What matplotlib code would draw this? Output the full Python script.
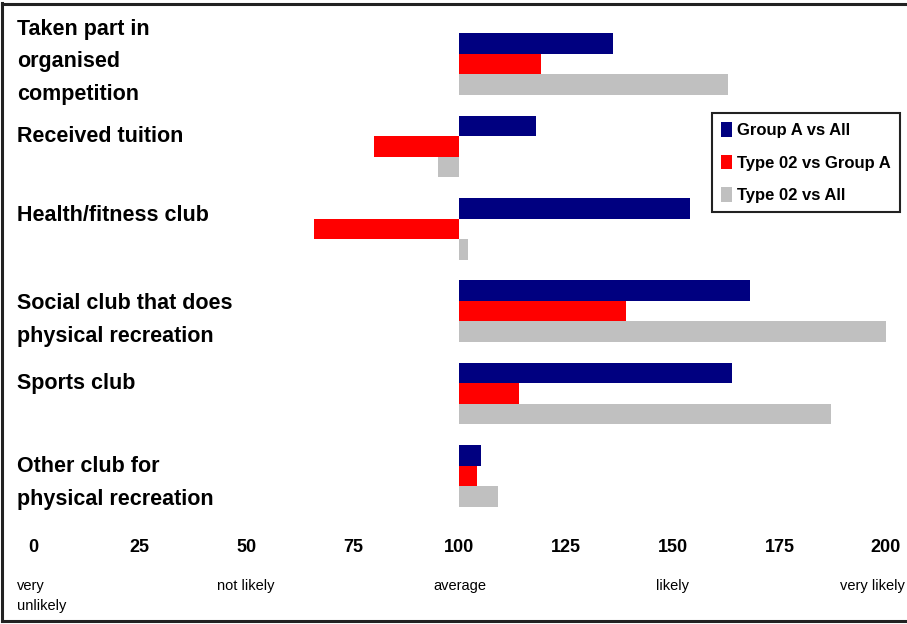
import matplotlib.pyplot as plt
from matplotlib.lines import Line2D
import numpy as np

plt.rcParams['font.family'] = ['Liberation Sans', 'DejaVu Sans']

categories = ['Taken part in\norganised\ncompetition',
              'Received tuition',
              'Health/fitness club',
              'Social club that does\nphysical recreation',
              'Sports club',
              'Other club for\nphysical recreation']
series_names = ['Group A vs All', 'Type 02 vs Group A', 'Type 02 vs All']
group_a_vs_all = [136, 118, 154, 168, 164, 105]
type02_vs_group_a = [119, 80, 66, 139, 114, 104]
type02_vs_all = [163, 95, 102, 201, 187, 109]
tick_values = [0, 25, 50, 75, 100, 125, 150, 175, 200]
scale_values = [0, 50, 100, 150, 200]
scale_labels = ['very\nunlikely', 'not likely', 'average', 'likely', 'very likely']

colors = ['#000080', '#ff0000', '#c0c0c0']
baseline = 100

W, H = 907, 624
fig = plt.figure(figsize=(W / 100, H / 100), dpi=100)
ax = fig.add_axes([33 / W, 1 - 517 / H, (886 - 33) / W, (517 - 23) / H])

y = np.arange(len(categories))
h = 0.25
for k, vals in enumerate([group_a_vs_all, type02_vs_group_a, type02_vs_all]):
    vals = np.array(vals, dtype=float)
    ax.barh(y + (k - 1) * h, vals - baseline, left=baseline, height=h,
            color=colors[k], label=series_names[k])

ax.set_xlim(0, 200)
ax.set_ylim(len(categories) - 0.5, -0.5)
for s in ax.spines.values():
    s.set_visible(False)
ax.set_yticks([])
ax.set_xticks(tick_values)
ax.set_xticklabels([str(v) for v in tick_values], fontsize=13, fontweight='bold')
ax.tick_params(axis='x', length=0, pad=16)

# category labels at the left
label_shift = [-0.03, -0.12, -0.16, 0.11, -0.12, 0.09]
for i, cat in enumerate(categories):
    ax.annotate(cat, xy=(0, i + label_shift[i]), xytext=(-16 * 0.72, 0),
                textcoords='offset points', ha='left', va='center',
                fontsize=15.5, fontweight='bold', linespacing=1.72)

# scale words under the ticks
for v, lab in zip(scale_values, scale_labels):
    if v == 0:
        ax.annotate(lab, xy=(v, 0), xycoords=('data', 'axes fraction'),
                    xytext=(-16 * 0.72, -79 * 0.72), textcoords='offset points',
                    ha='left', va='center', fontsize=10.5, linespacing=1.55)
    elif v == 200:
        ax.annotate(lab, xy=(v, 0), xycoords=('data', 'axes fraction'),
                    xytext=(19 * 0.72, -69 * 0.72), textcoords='offset points',
                    ha='right', va='center', fontsize=10.5)
    else:
        ax.annotate(lab, xy=(v, 0), xycoords=('data', 'axes fraction'),
                    xytext=(0, -69 * 0.72), textcoords='offset points',
                    ha='center', va='center', fontsize=10.5)

leg = fig.legend(loc='upper left', bbox_to_anchor=(712 / W, 1 - 113 / H),
                 fancybox=False, framealpha=1, edgecolor='#222222',
                 prop={'size': 12, 'weight': 'bold'}, handlelength=0.66,
                 handleheight=0.95, handletextpad=0.3, labelspacing=1.0,
                 borderpad=0.55, borderaxespad=0)
leg.get_frame().set_linewidth(1.5)

# border around the picture (left, top, bottom)
bc = '#222222'
fig.add_artist(Line2D([2 / W, 2 / W], [1 - 3 / H, 1 - 621 / H], color=bc, lw=2.2))
fig.add_artist(Line2D([2 / W, 1], [1 - 4 / H, 1 - 4 / H], color=bc, lw=2.2))
fig.add_artist(Line2D([2 / W, 1], [1 - 621 / H, 1 - 621 / H], color=bc, lw=2.2))

fig.savefig('out.png', dpi=100)
